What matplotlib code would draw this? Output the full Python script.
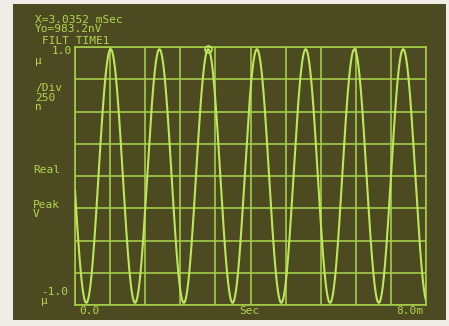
import numpy as np
import matplotlib
matplotlib.use("Agg")
from matplotlib import pyplot as plt
from matplotlib.patches import Rectangle

# signal readout
cursor_x_ms = 3.0352
cursor_y_nv = 983.2
freq_hz = 900.0
span_ms = 8.0
y_range_uv = 1.0

x_divs = 10
y_divs = 8

W, H = 449, 326
SCREEN = "#4c4a21"
GRID = "#a6cc4a"
TRACE = "#bde65a"
TEXT = "#b3d650"


def fx(x):
    return x / W


def fy(y):
    return 1 - y / H


fig = plt.figure(figsize=(W / 100, H / 100), dpi=100, facecolor="#efede6")
fig.patches.append(Rectangle((fx(13), fy(320)), fx(446) - fx(13), fy(4) - fy(320),
                             transform=fig.transFigure, facecolor=SCREEN,
                             edgecolor="none", zorder=-1))

ax = fig.add_axes([fx(75), fy(305), fx(426) - fx(75), fy(47) - fy(305)])
ax.set_facecolor(SCREEN)
ax.set_zorder(2)

t = np.linspace(0, span_ms, 2000)
amp = cursor_y_nv / 1000.0
v = amp * np.cos(2 * np.pi * freq_hz * (t - cursor_x_ms) / 1000.0)
ax.plot(t, v, color=TRACE, lw=1.5, zorder=3)
ax.plot([cursor_x_ms], [amp], "o", ms=5, mfc="none", mec=TRACE, mew=1.2,
        zorder=4, clip_on=False)

ax.set_xlim(0, span_ms)
ax.set_ylim(-y_range_uv, y_range_uv)
for xv in np.linspace(0, span_ms, x_divs + 1):
    ax.axvline(xv, color=GRID, lw=1.2, zorder=2)
for yv in np.linspace(-y_range_uv, y_range_uv, y_divs + 1):
    ax.axhline(yv, color=GRID, lw=1.2, zorder=2)
for s in ax.spines.values():
    s.set_color(GRID)
    s.set_linewidth(1.2)
ax.set_xticks([])
ax.set_yticks([])

font = dict(family="DejaVu Sans Mono", fontsize=8, color=TEXT,
            va="baseline", linespacing=0.92)


def label(x, y, s, ha="left"):
    fig.text(fx(x), fy(y), s, ha=ha, **font)


label(35, 32, "X=%.4f mSec\nYo=%.1fnV" % (cursor_x_ms, cursor_y_nv))
label(42, 44, "FILT TIME1")
label(72, 54, "%.1f" % y_range_uv, ha="right")
label(35, 64, "\u03bc")
label(35, 110, "/Div\n250\nn")
label(33, 173, "Real")
label(33, 217, "Peak\nV")
label(41, 304, "-%.1f\n\u03bc" % y_range_uv)
label(79, 314, "0.0")
label(239, 314, "Sec")
label(423, 314, "%.1fm" % span_ms, ha="right")

fig.savefig("out.png", dpi=100, facecolor=fig.get_facecolor())
